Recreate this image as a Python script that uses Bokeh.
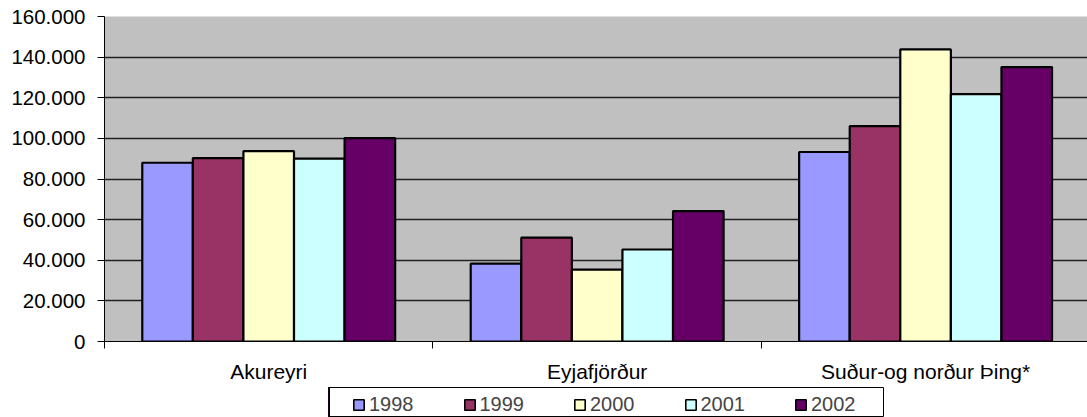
from bokeh.plotting import figure
from bokeh.models import Range1d, FixedTicker, Legend, LegendItem
from bokeh.layouts import column
from bokeh.embed import file_html
from bokeh.resources import INLINE

categories = ["Akureyri", "Eyjafjörður", "Suður-og norður Þing*"]
years = ["1998", "1999", "2000", "2001", "2002"]
v1998 = [88000, 38300, 93300]
v1999 = [90300, 51100, 106000]
v2000 = [93700, 35400, 143800]
v2001 = [90000, 45300, 121800]
v2002 = [100100, 64200, 135100]
series = [v1998, v1999, v2000, v2001, v2002]
colors = ["#9999FF", "#993366", "#FFFFCC", "#CCFFFF", "#660066"]
y_ticks = [0, 20000, 40000, 60000, 80000, 100000, 120000, 140000, 160000]
y_tick_labels = ["0", "20.000", "40.000", "60.000", "80.000", "100.000", "120.000", "140.000", "160.000"]

FONT = "Liberation Sans"
bar_w = 0.154
centers = [i + 0.5 for i in range(len(categories))]

p = figure(width=1087, height=387, output_backend="svg", toolbar_location=None,
           x_range=Range1d(0, 2.993), y_range=Range1d(0, 160000),
           min_border_left=104, min_border_right=0, min_border_top=16, min_border_bottom=46)
p.frame_align = False
p.background_fill_color = "#C0C0C0"
p.border_fill_color = "white"
p.outline_line_color = None

for i, (vals, col) in enumerate(zip(series, colors)):
    xs = [c + (i - 2) * bar_w for c in centers]
    p.vbar(x=xs, top=vals, width=bar_w, bottom=0, fill_color=col,
           line_color="black", line_width=2.2)

# y axis
p.yaxis.ticker = FixedTicker(ticks=y_ticks, minor_ticks=[])
p.yaxis.major_label_overrides = {t: l for t, l in zip(y_ticks, y_tick_labels)}
p.yaxis.major_label_text_font = FONT
p.yaxis.major_label_text_font_size = "20.5px"
p.yaxis.major_label_text_color = "black"
p.yaxis.major_tick_out = 7
p.yaxis.major_tick_in = 0
p.yaxis.major_label_standoff = 12
p.yaxis.axis_line_color = "black"
p.yaxis.major_tick_line_color = "black"

# x axis
p.xaxis.ticker = FixedTicker(ticks=centers, minor_ticks=[0, 1, 2, 3])
p.xaxis.major_label_overrides = {c: n for c, n in zip(centers, categories)}
p.xaxis.major_label_text_font = FONT
p.xaxis.major_label_text_font_size = "21px"
p.xaxis.major_label_text_color = "black"
p.xaxis.major_tick_line_color = None
p.xaxis.major_tick_out = 7
p.xaxis.major_tick_in = 0
p.xaxis.minor_tick_out = 7
p.xaxis.minor_tick_in = 0
p.xaxis.minor_tick_line_color = "black"
p.xaxis.major_label_standoff = 11
p.xaxis.axis_line_color = "black"

p.xgrid.visible = False
p.ygrid.ticker = FixedTicker(ticks=y_ticks, minor_ticks=[])
p.ygrid.grid_line_color = "#202020"
p.ygrid.grid_line_width = 1.5

# legend strip: its frame outline is the legend box; the series bars lie outside its view
lg = figure(width=1087, height=30, output_backend="svg", toolbar_location=None,
            x_range=Range1d(10, 11), y_range=Range1d(0, 1),
            x_axis_location=None, y_axis_location=None,
            min_border_left=328, min_border_right=204, min_border_top=0, min_border_bottom=1)
lg.frame_align = False
lg.grid.visible = False
lg.background_fill_color = "white"
lg.border_fill_color = "white"
lg.outline_line_color = "black"
lg.outline_line_width = 1

items = []
for i, (y, vals, col) in enumerate(zip(years, series, colors)):
    xs = [c + (i - 2) * bar_w for c in centers]
    r = lg.vbar(x=xs, top=vals, width=bar_w, fill_color=col, line_color="black", line_width=1.6)
    items.append(LegendItem(label=y, renderers=[r]))

legend = Legend(items=items, orientation="horizontal", location=(24, 0),
                glyph_width=13, glyph_height=13, label_standoff=4, spacing=49,
                padding=3, margin=0, border_line_color=None,
                background_fill_alpha=0,
                label_text_font=FONT, label_text_font_size="20px", label_height=20)
lg.add_layout(legend, "center")

layout = column(p, lg, spacing=0)
open("out.html", "w").write(file_html(layout, INLINE))
